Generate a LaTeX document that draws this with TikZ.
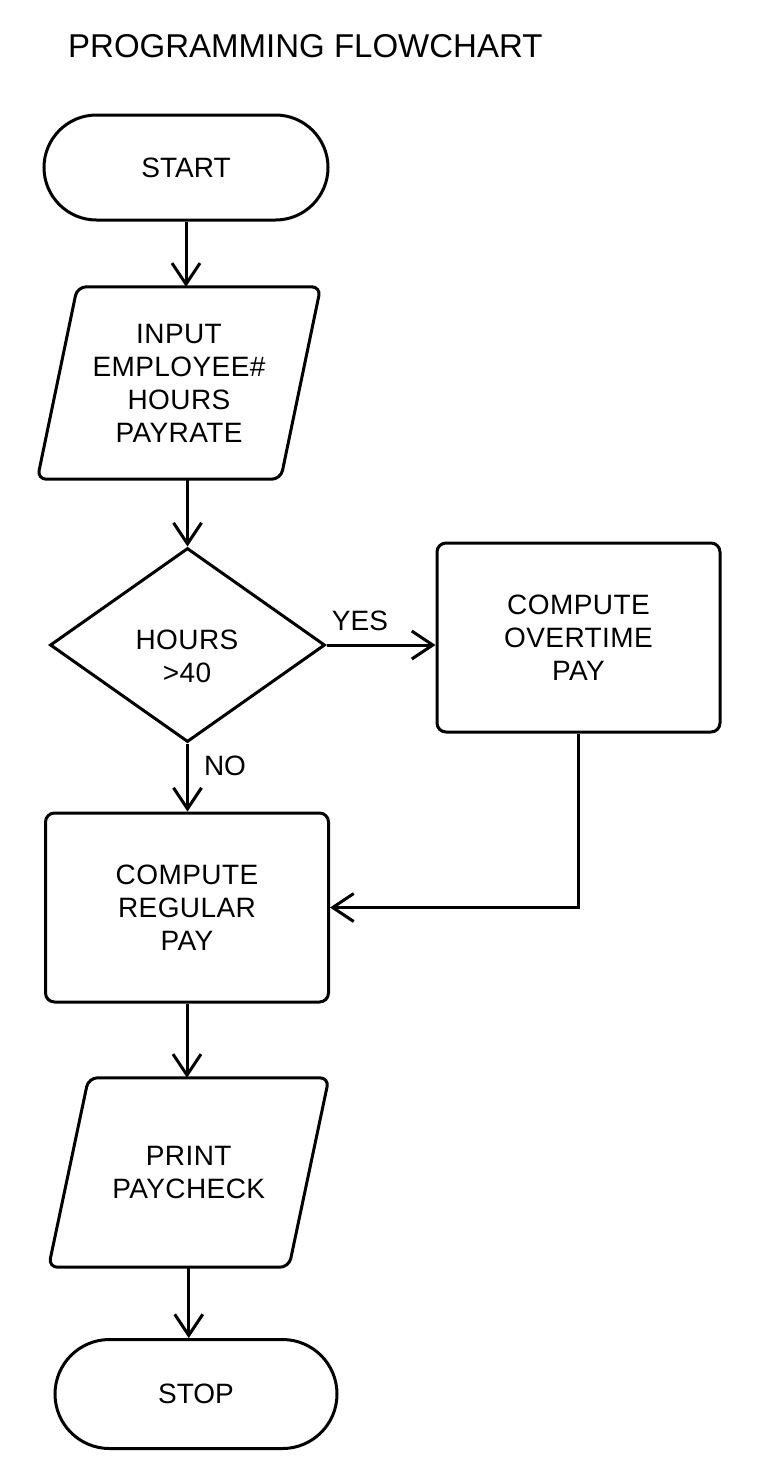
\documentclass[tikz,border=0pt]{standalone}
\usepackage{fontspec}
\setmainfont{Liberation Sans}
\newfontfamily\boxfont[LetterSpace=1.5]{Liberation Sans}
\usetikzlibrary{shapes.geometric,shapes.misc,arrows.meta}
\begin{document}
\begin{tikzpicture}[x=1pt,y=-1pt,
  every node/.style={font=\boxfont\fontsize{28}{33}\selectfont, align=center, inner sep=0pt},
  shp/.style={draw, line width=3pt},
  term/.style={shp, rounded rectangle, font=\rmfamily\fontsize{28}{33}\selectfont},
  proc/.style={shp, rectangle, rounded corners=9pt},
  iobox/.style={rectangle},
  decbox/.style={shp, diamond},
  lbl/.style={font=\rmfamily\fontsize{28}{33}\selectfont},
  arr/.style={line width=3pt, -{Straight Barb[length=21pt,width=28pt]}}
]
\useasboundingbox (0,0) rectangle (760,1459);
\node[anchor=base west, font=\rmfamily\fontsize{33}{40}\selectfont] (title) at (68,57) {PROGRAMMING FLOWCHART};
\node[term, minimum width=284pt, minimum height=105pt] (start) at (186,167.5) {START};
\node[iobox, minimum width=243pt, minimum height=192pt] (inp) at (179,383) {INPUT\\EMPLOYEE\#\\HOURS\\PAYRATE};
\draw[shp, rounded corners=9pt] ([xshift=20pt]inp.north west) -- ([xshift=20pt]inp.north east)
  -- ([xshift=-20pt]inp.south east) -- ([xshift=-20pt]inp.south west) -- cycle;
\node[decbox, minimum width=275pt, minimum height=194pt] (dec) at (187.5,645) {};
\node (dectext) at (187,656) {HOURS\\>40};
\node[proc, minimum width=283pt, minimum height=189pt] (ot) at (578.5,637.5) {COMPUTE\\OVERTIME\\PAY};
\node[proc, minimum width=283pt, minimum height=189pt] (reg) at (187,907.5) {COMPUTE\\REGULAR\\PAY};
\node[iobox, minimum width=240pt, minimum height=189pt] (prt) at (188.75,1172.5) {PRINT\\PAYCHECK};
\draw[shp, rounded corners=9pt] ([xshift=20pt]prt.north west) -- ([xshift=20pt]prt.north east)
  -- ([xshift=-20pt]prt.south east) -- ([xshift=-20pt]prt.south west) -- cycle;
\node[term, minimum width=282pt, minimum height=109pt] (stop) at (196,1394) {STOP};
\node[lbl] (yes) at (360,621) {YES};
\node[lbl] (no) at (225,766) {NO};
\draw[arr] (start.south) -- (start.south |- inp.north);
\draw[arr] (dec.north |- inp.south) -- (dec.north);
\draw[arr] (dec.east) -- (dec.east -| ot.west);
\draw[arr] (dec.south) -- (dec.south |- reg.north);
\draw[arr] (ot.south) |- (reg.east);
\draw[arr] (reg.south) -- (reg.south |- prt.north);
\draw[arr] (prt.south) -- (prt.south |- stop.north);
\end{tikzpicture}
\end{document}
